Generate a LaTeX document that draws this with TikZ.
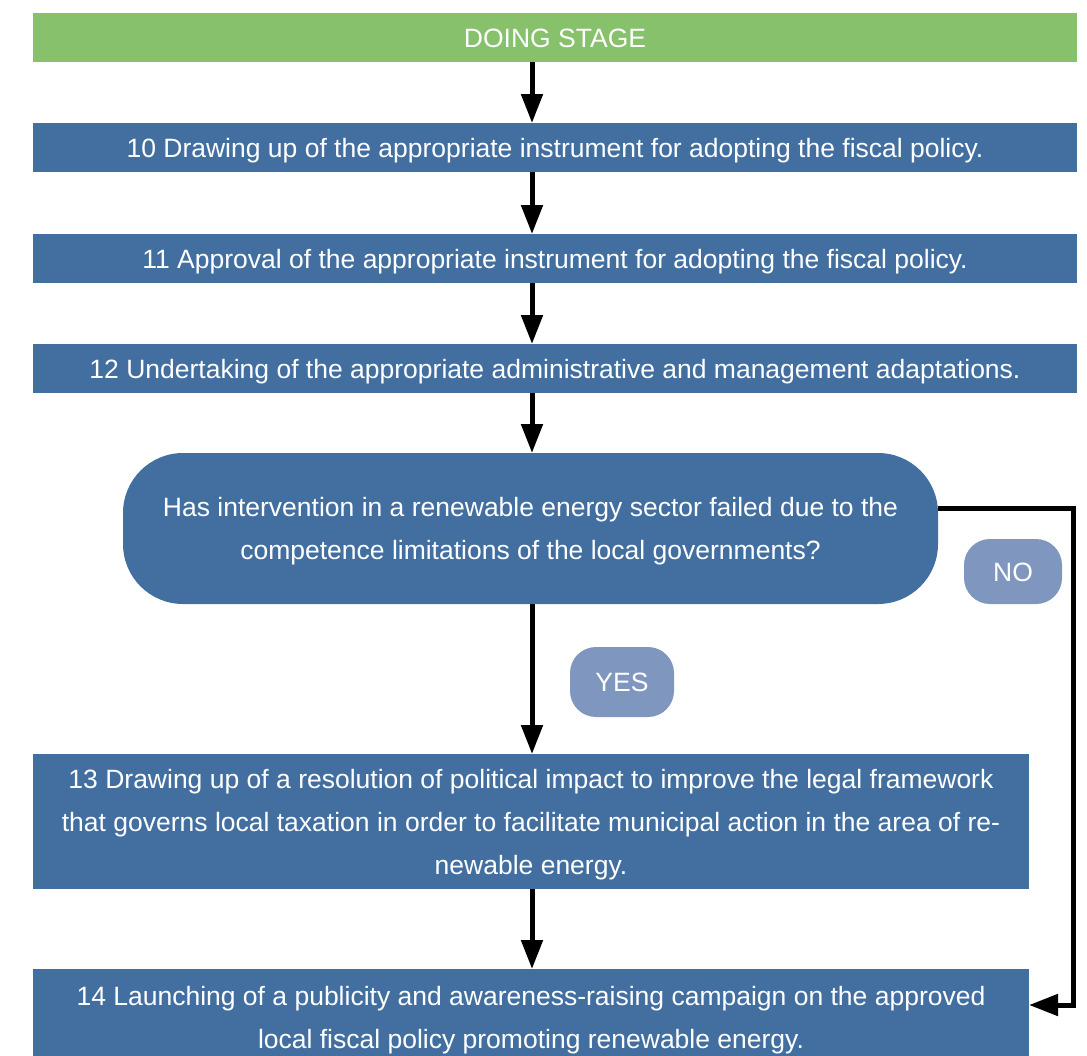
\documentclass[tikz,border=0pt]{standalone}
\usepackage{fontspec}
\setmainfont{Liberation Sans}
\usetikzlibrary{arrows.meta}
\definecolor{stagegreen}{HTML}{87C16B}
\definecolor{stepblue}{HTML}{426FA0}
\definecolor{tagblue}{HTML}{7F97BF}
% tall strut opening the first line of a multi-line box
\newcommand{\toplinestrut}{\rule{0pt}{24.5pt}}
\begin{document}
\begin{tikzpicture}[x=1pt,y=-1pt,
  every node/.style={inner sep=0pt,outer sep=0pt,text=white,font=\fontsize{26.5}{43}\selectfont},
  oneline/.style={text height=19pt,text depth=0pt},
  multiline/.style={align=center},
  stagebox/.style={fill=stagegreen,minimum height=49pt,anchor=north west,oneline},
  stepbox/.style={fill=stepblue,anchor=north west},
  tagbox/.style={fill=tagblue,rounded corners=26pt,anchor=north west,oneline},
  flow/.style={line width=5pt,-{Triangle[width=21pt,length=29pt]}}]
\useasboundingbox (0,0) rectangle (1087,1055);
% stage header and sequential steps
\node[stagebox,minimum width=1044pt] (stage) at (33,13) {DOING STAGE};
\node[stepbox,oneline,minimum width=1044pt,minimum height=49pt] (s10) at (33,123)
  {10 Drawing up of the appropriate instrument for adopting the fiscal policy.};
\node[stepbox,oneline,minimum width=1044pt,minimum height=49pt] (s11) at (33,234)
  {11 Approval of the appropriate instrument for adopting the fiscal policy.};
\node[stepbox,oneline,minimum width=1044pt,minimum height=49pt] (s12) at (33,344)
  {12 Undertaking of the appropriate administrative and management adaptations.};
% decision
\node[stepbox,multiline,rounded corners=60pt,minimum width=815pt,minimum height=151pt] (q) at (123,453)
  {\toplinestrut Has intervention in a renewable energy sector failed due to the\\competence limitations of the local governments?};
\node[tagbox,minimum width=98pt,minimum height=65pt] (no) at (964,539) {NO};
\node[tagbox,minimum width=104pt,minimum height=70pt] (yes) at (570,647) {YES};
% outcome steps
\node[stepbox,multiline,minimum width=996pt,minimum height=135pt] (s13) at (33,754)
  {\toplinestrut 13 Drawing up of a resolution of political impact to improve the legal framework\\that governs local taxation in order to facilitate municipal action in the area of re-\\newable energy.};
\node[stepbox,multiline,minimum width=996pt,minimum height=96pt] (s14) at (33,969)
  {\toplinestrut 14 Launching of a publicity and awareness-raising campaign on the approved\\local fiscal policy promoting renewable energy.};
% connectors
\draw[flow] (stage.south -| 532,0) -- (s10.north -| 532,0);
\draw[flow] (s10.south -| 532,0) -- (s11.north -| 532,0);
\draw[flow] (s11.south -| 532,0) -- (s12.north -| 532,0);
\draw[flow] (s12.south -| 532,0) -- (q.north -| 532,0);
\draw[flow] (q.south -| 532,0) -- (s13.north -| 532,0);
\draw[flow] (s13.south -| 532,0) -- (s14.north -| 532,0);
\coordinate (nocorner) at (1073,508);
\draw[flow] (q.east |- nocorner) -- (nocorner) -- (nocorner |- 0,1005) -- (s14.east |- 0,1005);
\end{tikzpicture}
\end{document}
